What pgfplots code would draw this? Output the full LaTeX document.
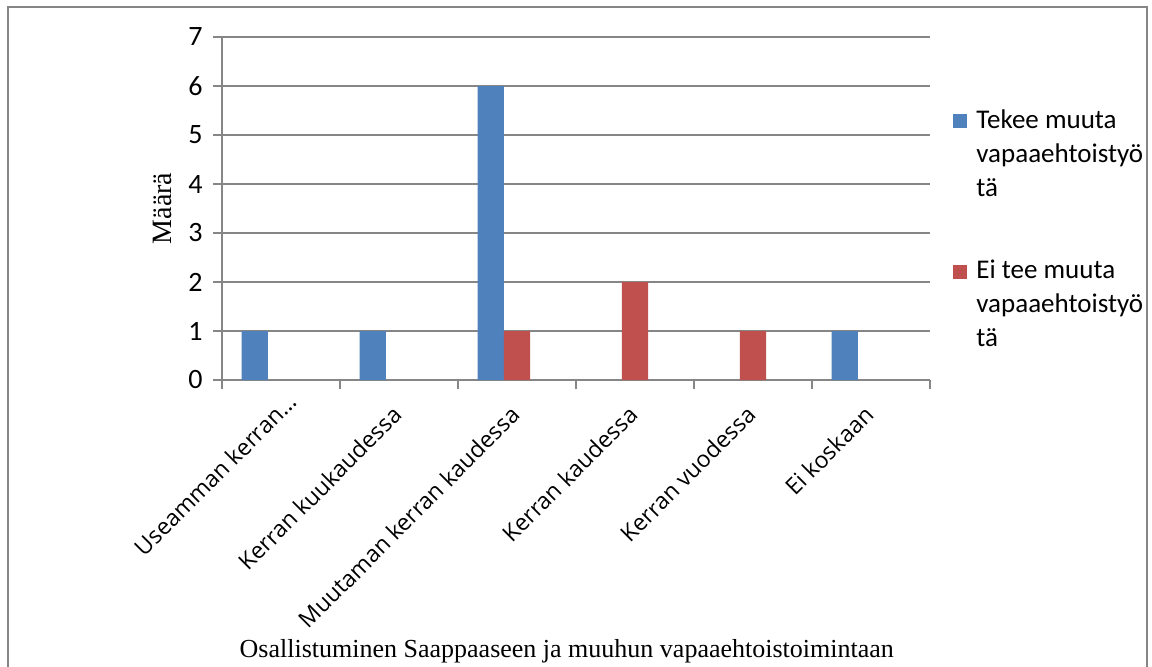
\documentclass[border=0pt]{standalone}
\usepackage{pgfplots}
\pgfplotsset{compat=1.18}
\usepackage{fontspec}
\setmainfont{Liberation Serif}
\newfontfamily\lblfont{Open Sans}
\newfontfamily\calfont{Carlito}
\definecolor{xblue}{HTML}{4F81BD}
\definecolor{xred}{HTML}{C0504D}
\definecolor{xgray}{HTML}{868686}
\pgfplotsset{sqlegend/.style={legend image code/.code={\fill[##1] (0pt,0pt) rectangle (7pt,7pt);}}}

\begin{document}
\begin{tikzpicture}
\useasboundingbox (0,0) rectangle (576pt,333pt);
\draw[xgray, line width=0.8pt] (4pt,-2pt) -- (4pt,329.5pt) -- (573.5pt,329.5pt) -- (573.5pt,-2pt);
\begin{axis}[
  at={(111pt,143pt)}, anchor=south west,
  scale only axis, width=354pt, height=171.5pt,
  xmin=-0.5, xmax=5.5, ymin=0, ymax=7,
  axis x line*=bottom, axis y line*=left,
  axis line style={xgray, line width=0.75pt, -},
  tick pos=left, tick align=outside, major tick length=4.5pt,
  tick style={xgray, line width=0.6pt},
  ytick={0,...,7}, ymajorgrids,
  grid style={xgray, line width=0.6pt},
  /pgf/number format/assume math mode=true,
  yticklabel style={font=\calfont\fontsize{14}{16}\selectfont, inner sep=0pt, xshift=-5pt},
  xtick={-0.5,0.5,...,5.5}, xticklabels={},
  extra x ticks={0,1,2,3,4,5},
  extra x tick labels={Useamman kerran…\kern-9pt, Kerran kuukaudessa, Muutaman kerran kaudessa, Kerran kaudessa, Kerran vuodessa, Ei koskaan},
  extra x tick style={major tick length=0pt, grid=none},
  xticklabel style={font=\lblfont\fontsize{11.5}{13}\selectfont, xshift=-4pt, yshift=-12pt, rotate=45, anchor=north east, inner sep=0pt},
  ylabel={Määrä},
  ylabel style={at={(axis description cs:-0.084,0.5)}, anchor=center, font=\fontsize{14}{16}\selectfont},
  xlabel={Osallistuminen Saappaaseen ja muuhun vapaaehtoistoimintaan},
  xlabel style={at={(axis description cs:0.487,-0.8076)}, anchor=base, font=\fontsize{13}{15}\selectfont},
  legend style={draw=none, fill=none, at={(axis description cs:1.0325,0.79)}, anchor=north west,
    inner sep=0pt, column sep=4.5pt, row sep=64.5pt,
    nodes={inner sep=0pt, font=\calfont\fontsize{13.5}{17}\selectfont},
    cells={anchor=base west}},
]
\addplot[ybar, fill=xblue, draw=none, bar width=0.2222, bar shift=-0.2222, sqlegend]
  coordinates {(0,1) (1,1) (2,6) (5,1)};
\addlegendentry{\parbox[t]{90pt}{\fontsize{13.5}{17}\selectfont Tekee muuta\\vapaaehtoistyö\\tä}}
\addplot[ybar, fill=xred, draw=none, bar width=0.2222, bar shift=0, sqlegend]
  coordinates {(2,1) (3,2) (4,1)};
\addlegendentry{\parbox[t]{90pt}{\fontsize{13.5}{17}\selectfont Ei tee muuta\\vapaaehtoistyö\\tä}}
\end{axis}
\end{tikzpicture}
\end{document}
